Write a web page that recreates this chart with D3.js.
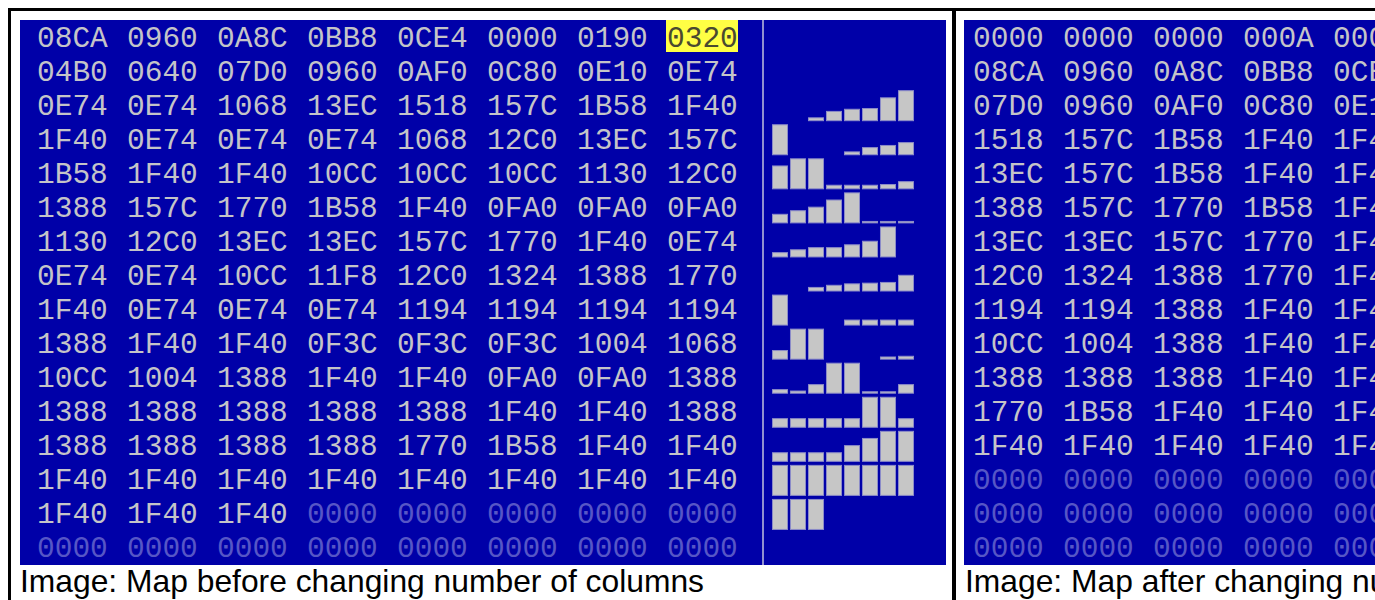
<!DOCTYPE html>
<html>
<head>
<meta charset="utf-8">
<script src="https://cdn.jsdelivr.net/npm/d3@7"></script>
<style>
  body { margin: 0; background: #fff; }
  svg { display: block; }
  .hex { font-family: 'Liberation Mono', monospace; font-size: 29.5px; }
  .caption { font-family: 'Liberation Sans', Arial, sans-serif; font-size: 31.8px; fill: #000; }
</style>
</head>
<body>
<svg id="chart"></svg>
<script>
var svgWidth = 1375;
var svgHeight = 600;

// map cells before the change (8 columns)
var leftRows = [
  ['08CA','0960','0A8C','0BB8','0CE4','0000','0190','0320'],
  ['04B0','0640','07D0','0960','0AF0','0C80','0E10','0E74'],
  ['0E74','0E74','1068','13EC','1518','157C','1B58','1F40'],
  ['1F40','0E74','0E74','0E74','1068','12C0','13EC','157C'],
  ['1B58','1F40','1F40','10CC','10CC','10CC','1130','12C0'],
  ['1388','157C','1770','1B58','1F40','0FA0','0FA0','0FA0'],
  ['1130','12C0','13EC','13EC','157C','1770','1F40','0E74'],
  ['0E74','0E74','10CC','11F8','12C0','1324','1388','1770'],
  ['1F40','0E74','0E74','0E74','1194','1194','1194','1194'],
  ['1388','1F40','1F40','0F3C','0F3C','0F3C','1004','1068'],
  ['10CC','1004','1388','1F40','1F40','0FA0','0FA0','1388'],
  ['1388','1388','1388','1388','1388','1F40','1F40','1388'],
  ['1388','1388','1388','1388','1770','1B58','1F40','1F40'],
  ['1F40','1F40','1F40','1F40','1F40','1F40','1F40','1F40'],
  ['1F40','1F40','1F40','0000','0000','0000','0000','0000'],
  ['0000','0000','0000','0000','0000','0000','0000','0000']
];
var leftDataCells = 115;      // cells after this are unused padding
var leftHighlight = [0, 7];   // row, col of selected cell

// map cells after the change (only first columns visible)
var rightRows = [
  ['0000','0000','0000','000A','0000'],
  ['08CA','0960','0A8C','0BB8','0CE4'],
  ['07D0','0960','0AF0','0C80','0E10'],
  ['1518','157C','1B58','1F40','1F40'],
  ['13EC','157C','1B58','1F40','1F40'],
  ['1388','157C','1770','1B58','1F40'],
  ['13EC','13EC','157C','1770','1F40'],
  ['12C0','1324','1388','1770','1F40'],
  ['1194','1194','1388','1F40','1F40'],
  ['10CC','1004','1388','1F40','1F40'],
  ['1388','1388','1388','1F40','1F40'],
  ['1770','1B58','1F40','1F40','1F40'],
  ['1F40','1F40','1F40','1F40','1F40'],
  ['0000','0000','0000','0000','0000'],
  ['0000','0000','0000','0000','0000'],
  ['0000','0000','0000','0000','0000']
];
var rightDataRows = 13;

var captions = ['Image: Map before changing number of columns', 'Image: Map after changing number of columns'];

var blue = '#0000a8';
var textGrey = '#c4c4c8';
var dimText = '#5656c6';

var svg = d3.select('#chart').attr('width', svgWidth).attr('height', svgHeight);

svg.append('rect').attr('width', svgWidth).attr('height', svgHeight).attr('fill', '#fff');

// panels
var leftPanel = {x0: 20, x1: 946};
var rightPanel = {x0: 964, x1: svgWidth};
var panelTop = 20, panelBottom = 565;

svg.append('rect').attr('x', leftPanel.x0).attr('y', panelTop)
   .attr('width', leftPanel.x1 - leftPanel.x0).attr('height', panelBottom - panelTop).attr('fill', blue);
svg.append('rect').attr('x', rightPanel.x0).attr('y', panelTop)
   .attr('width', rightPanel.x1 - rightPanel.x0).attr('height', panelBottom - panelTop).attr('fill', blue);

// frame lines
svg.append('line').attr('x1', 8).attr('x2', svgWidth).attr('y1', 9.5).attr('y2', 9.5)
   .attr('stroke', '#000').attr('stroke-width', 3);
svg.append('line').attr('x1', 9.5).attr('x2', 9.5).attr('y1', 8).attr('y2', svgHeight)
   .attr('stroke', '#000').attr('stroke-width', 3);
svg.append('line').attr('x1', 954).attr('x2', 954).attr('y1', 8).attr('y2', svgHeight)
   .attr('stroke', '#000').attr('stroke-width', 4);

var yScale = d3.scaleBand().domain(d3.range(16)).range([panelTop, panelBottom]);
var xLeft = d3.scaleLinear().domain([0, 7]).range([37, 667]);
var xRight = d3.scaleLinear().domain([0, 4]).range([973, 1333]);

function cellsOf(rows) {
  var out = [];
  rows.forEach(function(r, ri) {
    r.forEach(function(v, ci) { out.push({row: ri, col: ci, v: v, idx: ri * r.length + ci}); });
  });
  return out;
}

var leftCells = cellsOf(leftRows);
var rightCells = cellsOf(rightRows);

// highlight box
svg.append('rect')
   .attr('x', xLeft(leftHighlight[1]) - 1)
   .attr('y', yScale(leftHighlight[0]))
   .attr('width', 72)
   .attr('height', 32)
   .attr('fill', '#ffff44');

var capOffset = 9.5;

svg.append('g').selectAll('text')
   .data(leftCells)
   .enter()
   .append('text')
   .attr('class', 'hex')
   .attr('x', function(d) { return xLeft(d.col); })
   .attr('y', function(d) { return yScale(d.row) + yScale.bandwidth() / 2 + capOffset; })
   .attr('fill', function(d) {
     if (d.row === leftHighlight[0] && d.col === leftHighlight[1]) return '#4a4a30';
     return d.idx >= leftDataCells ? dimText : textGrey;
   })
   .text(function(d) { return d.v; });

var rightClip = svg.append('clipPath').attr('id', 'rightClip');
rightClip.append('rect').attr('x', rightPanel.x0).attr('y', panelTop)
   .attr('width', rightPanel.x1 - rightPanel.x0).attr('height', panelBottom - panelTop);

svg.append('g').attr('clip-path', 'url(#rightClip)').selectAll('text')
   .data(rightCells)
   .enter()
   .append('text')
   .attr('class', 'hex')
   .attr('x', function(d) { return xRight(d.col); })
   .attr('y', function(d) { return yScale(d.row) + yScale.bandwidth() / 2 + capOffset; })
   .attr('fill', function(d) { return d.row >= rightDataRows ? dimText : textGrey; })
   .text(function(d) { return d.v; });

// separator between numbers and bar graph
svg.append('line').attr('x1', 763).attr('x2', 763).attr('y1', panelTop).attr('y2', panelBottom)
   .attr('stroke', '#9090d0').attr('stroke-width', 2);

// bar graph of each row
var barX = d3.scaleBand().domain(d3.range(8)).range([771, 915]).paddingInner(0.11).paddingOuter(0.055);
var barH = d3.scaleLinear().domain([0x0ED8, 0x1F40]).range([0, 30]).clamp(true);

var barCells = leftCells.filter(function(d) { return barH(parseInt(d.v, 16)) >= 1; });

svg.append('g').selectAll('rect')
   .data(barCells)
   .enter()
   .append('rect')
   .attr('x', function(d) { return barX(d.col) + 0.5; })
   .attr('width', barX.bandwidth() - 1)
   .attr('y', function(d) { return yScale(d.row) + yScale.bandwidth() - 2 - barH(parseInt(d.v, 16)) + 0.5; })
   .attr('height', function(d) { return barH(parseInt(d.v, 16)); })
   .attr('fill', '#c6c6c6')
   .attr('stroke', '#8c8cc8')
   .attr('stroke-width', 1);

// captions
svg.append('text').attr('class', 'caption').attr('x', 20).attr('y', 592).text(captions[0]);
svg.append('text').attr('class', 'caption').attr('x', 965).attr('y', 592).text(captions[1]);
</script>
</body>
</html>
